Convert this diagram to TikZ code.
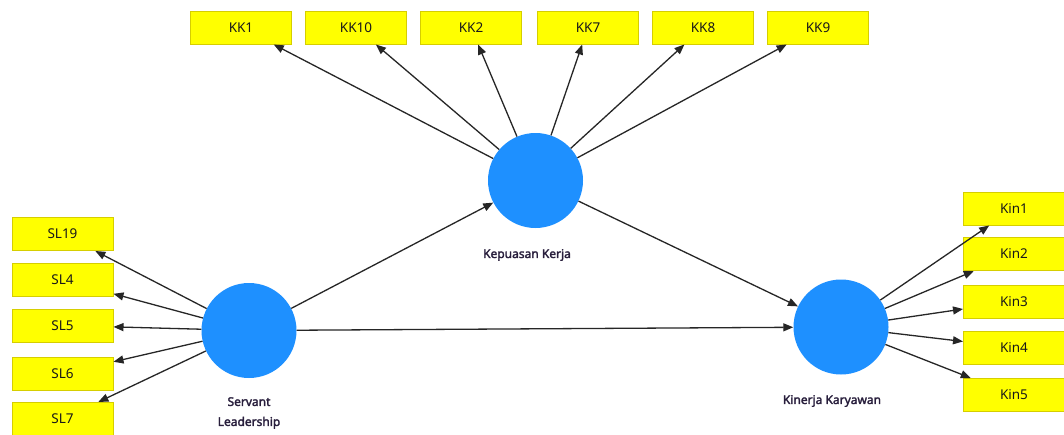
\documentclass[tikz,border=0pt]{standalone}
\usepackage{fontspec}
\setmainfont{Noto Sans}
\newfontfamily\lvfont[AutoFakeBold=2.2]{Noto Sans}
\usetikzlibrary{arrows.meta}
\definecolor{lvblue}{RGB}{30,144,255}
\definecolor{indfill}{RGB}{255,255,0}
\definecolor{indedge}{RGB}{214,206,0}
\definecolor{lvtext}{RGB}{40,30,60}
\tikzset{
  ind/.style={draw=indedge, line width=1pt, fill=indfill, minimum width=101pt,
    minimum height=33pt, inner sep=0pt, font=\fontsize{13.5}{15}\selectfont, text=black!90},
  lv/.style={circle, fill=lvblue, minimum size=95pt, inner sep=0pt},
  lvlabel/.style={font=\lvfont\bfseries\fontsize{12}{20}\selectfont, text=lvtext, align=center},
  link/.style={draw=black!85, line width=1.3pt, -{Triangle[length=10pt,width=8pt]}},
}
\begin{document}
\begin{tikzpicture}[x=1pt,y=-1pt]
  \fill[white] (0,0) rectangle (1064,434);
  \useasboundingbox (0,0) rectangle (1064,434);

  % latent variables
  \node[lv] (kp) at (535.5,180.5) {};
  \node[lv] (sl) at (249,330.5) {};
  \node[lv] (kin) at (841,327) {};
  \node[lvlabel] (kplab) at (527,255) {Kepuasan Kerja};
  \node[lvlabel] (sllab) at (249,413) {Servant\\Leadership};
  \node[lvlabel] (kinlab) at (832,401) {Kinerja Karyawan};

  % indicators of Kepuasan Kerja
  \node[ind] (kk1)  at (241,27.5) {KK1};
  \node[ind] (kk10) at (356,27.5) {KK10};
  \node[ind] (kk2)  at (471,27.5) {KK2};
  \node[ind] (kk7)  at (588,27.5) {KK7};
  \node[ind] (kk8)  at (703,27.5) {KK8};
  \node[ind] (kk9)  at (818,27.5) {KK9};

  % indicators of Servant Leadership
  \node[ind] (sl19) at (62.5,234) {SL19};
  \node[ind] (sl4)  at (62.5,280) {SL4};
  \node[ind] (sl5)  at (62.5,325.5) {SL5};
  \node[ind] (sl6)  at (62.5,373.5) {SL6};
  \node[ind] (sl7)  at (62.5,419) {SL7};

  % indicators of Kinerja Karyawan
  \node[ind] (kin1) at (1014,208.5) {Kin1};
  \node[ind] (kin2) at (1014,254) {Kin2};
  \node[ind] (kin3) at (1014,301.5) {Kin3};
  \node[ind] (kin4) at (1014,347.5) {Kin4};
  \node[ind] (kin5) at (1014,395) {Kin5};

  % outer model
  \foreach \t in {kk1,kk10,kk2,kk7,kk8,kk9} \draw[link] (kp) -- (\t);
  \foreach \t in {sl19,sl4,sl5,sl6,sl7} \draw[link] (sl) -- (\t);
  \foreach \t in {kin1,kin2,kin3,kin4,kin5} \draw[link] (kin) -- (\t);

  % inner model
  \draw[link] (sl) -- (kp);
  \draw[link] (sl) -- (kin);
  \draw[link] (kp) -- (kin);
\end{tikzpicture}
\end{document}
